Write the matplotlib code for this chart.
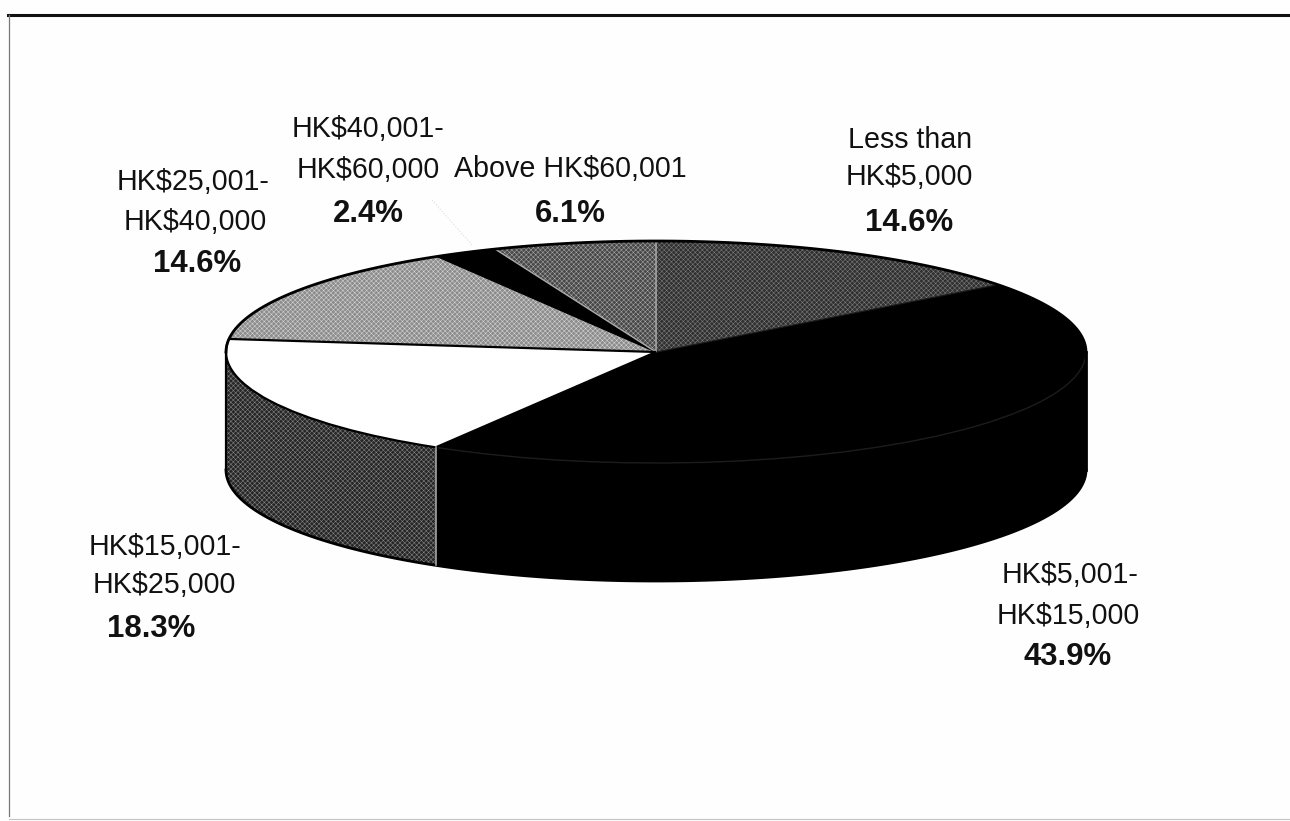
import numpy as np
import matplotlib
matplotlib.use("Agg")
import matplotlib.pyplot as plt
from matplotlib.patches import Polygon

plt.rcParams['font.family'] = ['Liberation Sans', 'DejaVu Sans']
plt.rcParams['hatch.linewidth'] = 0.35

# Income bands, clockwise from twelve o'clock
bands = ["Less than\nHK$5,000", "HK$5,001-\nHK$15,000", "HK$15,001-\nHK$25,000",
         "HK$25,001-\nHK$40,000", "HK$40,001-\nHK$60,000", "Above HK$60,001"]
shares = [14.6, 43.9, 18.3, 14.6, 2.4, 6.1]

# Fill, stipple colour and hatch for the top faces
top_colors = ["#303030", "#000000", "#ffffff", "#8c8c8c", "#000000", "#484848"]
top_stipple = ["#808080", "#1c1c1c", "#000000", "#d8d8d8", "#000000", "#ababab"]
top_hatch = ["xxxxxxx", None, None, "xxxxxxx", None, "xxxxxxx"]
wall_colors = ["#262626", "#000000", "#262626", "#8c8c8c", "#000000", "#484848"]
wall_stipple = ["#707070", "#000000", "#8a8a8a", "#d8d8d8", "#000000", "#ababab"]

W, H = 1290, 821
cx, cy = 656, 352
rx, ry = 430, 111
depth = 118 / ry

fig = plt.figure(figsize=(W / 100, H / 100), dpi=100, facecolor="#fefefe")
ax = fig.add_axes([0, 0, 1, 1])


def rim(a1, a2):
    # points on the unit rim, angles in degrees clockwise from the top
    t = np.radians(np.linspace(a1, a2, 120))
    return np.sin(t), np.cos(t)


edges = np.concatenate([[0], np.cumsum(shares)]) / sum(shares) * 360

# Side wall, only the front half of the disc shows
for i in range(len(shares)):
    a1, a2 = max(edges[i], 90), min(edges[i + 1], 270)
    if a2 <= a1:
        continue
    x, y = rim(a1, a2)
    pts = np.column_stack([np.r_[x, x[::-1]], np.r_[y, y[::-1] - depth]])
    ax.add_patch(Polygon(pts, closed=True, facecolor=wall_colors[i], edgecolor=wall_stipple[i],
                         hatch="xxxxxxx" if wall_colors[i] != "#000000" else None, lw=0.8, zorder=1))

wedges, _ = ax.pie(shares, startangle=90, counterclock=False, radius=1, center=(0, 0))
for i, w in enumerate(wedges):
    w.set_facecolor(top_colors[i])
    w.set_edgecolor(top_stipple[i])
    w.set_linewidth(1.0)
    w.set_zorder(2)
    if top_hatch[i]:
        w.set_hatch(top_hatch[i])
wedges[2].set_zorder(3)
wedges[2].set_linewidth(1.6)

# Squash the circle into the tilted disc and work out the view from the centre
ax.set_aspect("auto")
ax.set_xlim(-cx / rx, (W - cx) / rx)
ax.set_ylim(-(H - cy) / ry, cy / ry)
ax.axis("off")

# Black outline: back rim, both sides, bottom edge
x, y = rim(-90, 90)
ax.plot(x, y, color="black", lw=2, zorder=4)
x, y = rim(90, 270)
ax.plot(x, y - depth, color="black", lw=2, zorder=4)
ax.plot([1, 1], [0, -depth], color="black", lw=2, zorder=4)
ax.plot([-1, -1], [0, -depth], color="black", lw=1.6, zorder=4)

# Seam on the wall between the two front slices
seam = np.radians(edges[2])
ax.plot([np.sin(seam)] * 2, [np.cos(seam), np.cos(seam) - depth], color="#9a9a9a", lw=1.2, zorder=4)


def to_fig(px, py):
    return px / W, 1 - py / H


def label(px, py, s, bold=False):
    fx, fy = to_fig(px, py + 2)
    fig.text(fx, fy, s, ha="center", va="center", fontsize=22.4 if bold else 20.6,
             fontweight="bold" if bold else "normal", color="#111111")


# Band names and percentages, one line at a time
label(910, 138, "Less than")
label(909, 175, "HK$5,000")
label(909, 221, "14.6%", True)
label(1070, 573, "HK$5,001-")
label(1068, 614, "HK$15,000")
label(1068, 655, "43.9%", True)
label(165, 545, "HK$15,001-")
label(164, 583, "HK$25,000")
label(151, 627, "18.3%", True)
label(193, 180, "HK$25,001-")
label(195, 220, "HK$40,000")
label(197, 262, "14.6%", True)
label(368, 127, "HK$40,001-")
label(368, 168, "HK$60,000")
label(368, 212, "2.4%", True)
label(570, 167, "Above HK$60,001")
label(570, 212, "6.1%", True)

# Frame around the chart
frame = fig.add_axes([0, 0, 1, 1], facecolor="none")
frame.set_xlim(0, W)
frame.set_ylim(H, 0)
frame.axis("off")
frame.plot([8, W], [15, 15], color="#111111", lw=2.2)
frame.plot([9, 9], [15, 816], color="#777777", lw=0.9)
frame.plot([9, W], [819, 819], color="#c4c4c4", lw=0.8)
frame.plot([432, 472], [200, 245], color="#dddddd", lw=0.8, ls=":")

fig.savefig("out.png", dpi=100, facecolor=fig.get_facecolor())
